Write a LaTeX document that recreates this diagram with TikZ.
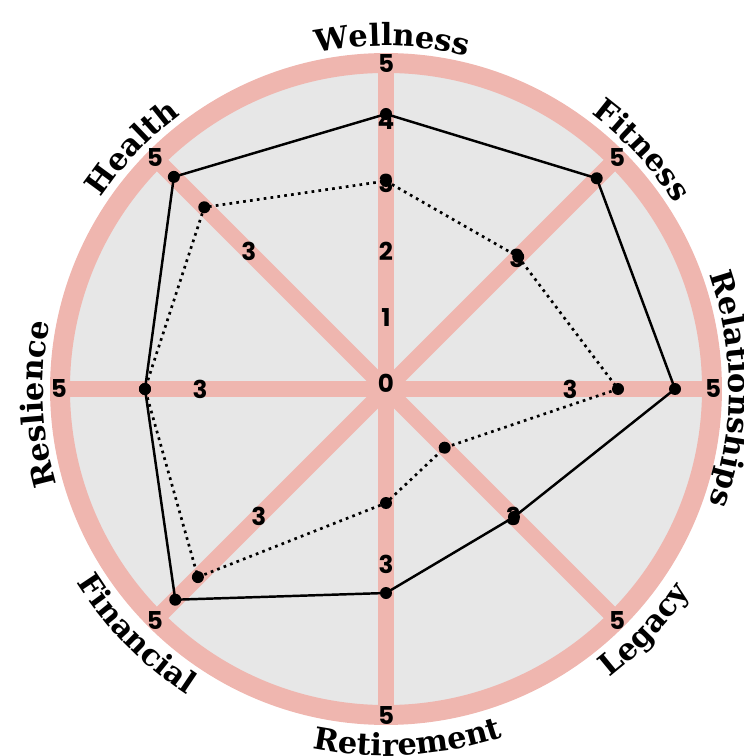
\documentclass[tikz,border=0pt]{standalone}
\usepackage{fontspec}
\usetikzlibrary{decorations.text}
\newfontfamily\numfont{Poppins}
\newfontfamily\catfont{DejaVu Serif}
\definecolor{ringpink}{RGB}{239,182,175}
\definecolor{diskgrey}{RGB}{231,231,231}
\newcommand\catstyle{\catfont\bfseries\fontsize{26}{26}\selectfont}

\begin{document}
\begin{tikzpicture}[x=0.03cm, y=0.03cm,
    spoke/.style={draw=ringpink, line width=13.6pt},
    ring/.style={draw=ringpink, line width=17pt},
    solidline/.style={draw=black, line width=2.1pt, line join=round},
    dottedline/.style={draw=black, line width=2.3pt, dash pattern=on 2.3pt off 3.6pt},
    datadot/.style={fill=black},
    numlbl/.style={font=\numfont\bfseries\fontsize{21}{21}\selectfont, inner sep=0pt},
    toplbl/.style={decorate, decoration={text along path, text align=center,
                 text={|\catstyle|#1}}},
    botlbl/.style={decorate, decoration={text along path, text align=center,
                 text={|\catstyle|#1}}}
]
\useasboundingbox (-386,-367) rectangle (357,389);

% disk, spokes and ring
\fill[diskgrey] (0,0) circle (326);
\foreach \a in {0,45,...,315}
    \draw[spoke] (0,0) -- (\a:326);
\draw[ring] (0,0) circle (326);

% data points
\foreach \name/\a/\r in {sw/90/275, sf/45/298, sr/0/289, sl/-45/181,
                         st/-90/204, sn/-135/298, ss/180/241, sh/135/300}
    \coordinate (\name) at (\a:\r);
\foreach \name/\a/\r in {dw/90/208, df/45/187, dr/0/232, dl/-45/83,
                         dt/-90/114, dn/-135/266, ds/180/241, dh/135/257}
    \coordinate (\name) at (\a:\r);

\draw[dottedline] (dw) -- (df) -- (dr) -- (dl) -- (dt) -- (dn) -- (ds) -- (dh) -- cycle;
\draw[solidline] (sw) -- (sf) -- (sr) -- (sl) -- (st) -- (sn) -- (ss) -- (sh) -- cycle;
\foreach \n in {sw,sf,sr,sl,st,sn,ss,sh,dw,df,dr,dl,dt,dn,ds,dh}
    \fill[datadot] (\n) circle (6);

% scale numbers
\foreach \v/\r in {0/6, 1/71, 2/138, 3/206, 4/268, 5/325}
    \node[numlbl] (w\v) at (90:\r) {\v};
\foreach \name/\a/\r in {h3/135/194, s3/180/186, n3/-135/180, t3/-90/175,
                         l3/-45/180, r3/0/184, f3/45/185}
    \node[numlbl] (\name) at (\a:\r) {3};
\foreach \name/\a in {h5/135, s5/180, n5/-135, t5/-90, l5/-45, r5/0, f5/45}
    \node[numlbl] (\name) at (\a:327) {5};

% category labels
\path[toplbl=Wellness] (129:343) arc[start angle=129, end angle=49, radius=343];
\path[toplbl=Fitness] (83:343) arc[start angle=83, end angle=3, radius=343];
\path[toplbl=Relationships] (40:343) arc[start angle=40, end angle=-40, radius=343];
\path[toplbl=Health] (176.5:343) arc[start angle=176.5, end angle=96.5, radius=343];
\path[toplbl=Reslience] (222.5:343) arc[start angle=222.5, end angle=142.5, radius=343];
\path[botlbl=Legacy] (-83:365) arc[start angle=-83, end angle=-3, radius=365];
\path[botlbl=Retirement] (-126.5:367) arc[start angle=-126.5, end angle=-46.5, radius=367];
\path[botlbl=Financial] (-175.5:365) arc[start angle=-175.5, end angle=-95.5, radius=365];
\end{tikzpicture}
\end{document}
